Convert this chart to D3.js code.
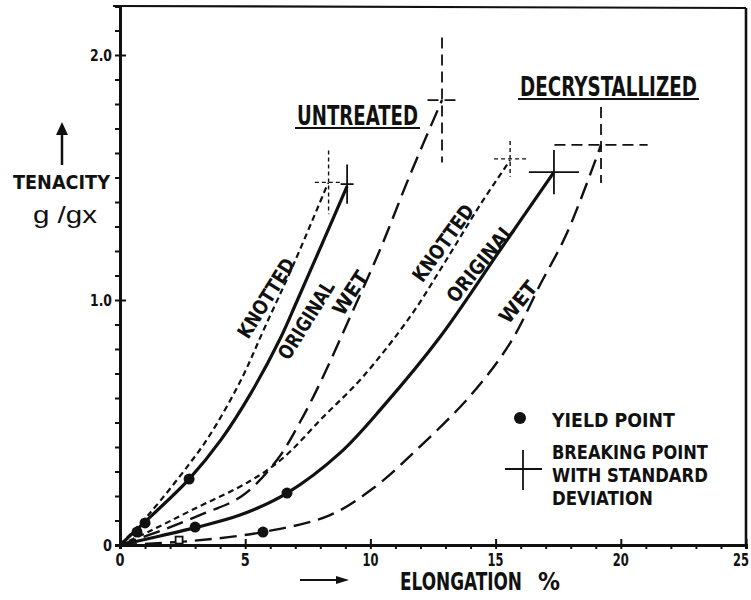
<!DOCTYPE html>
<html><head><meta charset="utf-8">
<script src="https://cdn.jsdelivr.net/npm/d3@7"></script>
<style>
html,body{margin:0;padding:0;background:#fff;}
svg{display:block;}
.lab{font-family:"Liberation Sans Narrow","DejaVu Sans Condensed","Roboto Condensed",sans-serif;font-weight:bold;fill:#111;}
</style></head>
<body>
<svg id="chart" width="751" height="600"></svg>
<script>
// ---------- DATA ----------
const xTicks = [0,5,10,15,20,25];
const yTickLabels = [{v:0,t:"0"},{v:1,t:"1.0"},{v:2,t:"2.0"}];

const untreatedKnotted  = [[0,0],[1.20,0.131],[2.80,0.335],[3.59,0.449],[4.79,0.665],[5.79,0.890],[6.92,1.143],[8.31,1.478]];
const untreatedOriginal = [[0,0],[1.20,0.114],[2.76,0.269],[4.03,0.429],[5.23,0.620],[6.43,0.849],[7.07,0.996],[8.07,1.229],[9.07,1.465]];
const untreatedWet      = [[0,0],[1.60,0.057],[3.19,0.122],[4.87,0.200],[6.27,0.347],[7.19,0.502],[7.99,0.661],[9.19,0.931],[10.38,1.204],[11.58,1.510],[12.86,1.816]];
const decrystKnotted    = [[0,0],[1.20,0.057],[2.80,0.139],[5.19,0.261],[6.51,0.355],[8.11,0.522],[9.66,0.682],[11.58,0.931],[12.98,1.155],[14.38,1.388],[15.58,1.571]];
const decrystOriginal   = [[0,0],[1.60,0.037],[3.08,0.073],[4.79,0.122],[6.67,0.212],[8.79,0.376],[10.52,0.567],[12.78,0.849],[15.18,1.204],[17.33,1.522]];
const decrystWet        = [[0,0],[2.80,0.016],[5.71,0.053],[8.39,0.122],[10.18,0.237],[11.58,0.363],[13.98,0.608],[15.58,0.824],[16.77,1.061],[17.85,1.273],[19.21,1.633]];

// breaking points: [elongation, tenacity, sd elongation, sd tenacity]
const breakUntreatedKnotted  = [8.33,1.48,0.55,0.13];
const breakUntreatedOriginal = [9.07,1.473,0.26,0.08];
const breakUntreatedWet      = [12.86,1.816,0.58,0.255];
const breakDecrystKnotted    = [15.58,1.576,0.64,0.073];
const breakDecrystOriginal   = [17.33,1.522,1.0,0.09];
const breakDecrystWet        = [19.21,1.633,1.86,0.155];

// yield points (filled) and one open marker
const yieldPoints = [[1.0,0.09],[2.76,0.269],[0.68,0.053],[3.0,0.073],[6.67,0.212],[5.71,0.053]];
const openYieldPoints = [[2.36,0.02]];

const groupTitles = ["UNTREATED","DECRYSTALLIZED"];
const curveLabels = ["KNOTTED","ORIGINAL","WET"];
const legendLabels = ["YIELD  POINT","BREAKING  POINT","WITH  STANDARD","DEVIATION"];
const xAxisTitle = ["ELONGATION","%"];
const yAxisTitle = ["TENACITY","g /gx"];

// ---------- DRAW ----------
const svg = d3.select("#chart");
const x = d3.scaleLinear().domain([0,25]).range([120,746]);
const y = d3.scaleLinear().domain([0,2.2]).range([545,6]);
const ink = "#111";

// text fitted to a width by horizontal scaling of real glyphs
function fitText(txt, tx, ty, w, fs, opt){
  opt = opt || {};
  const t = svg.append("text").attr("class", opt.cls===undefined ? "lab" : opt.cls)
    .attr("font-size",fs).attr("text-anchor",opt.anchor||"start").text(txt);
  if(opt.family) t.attr("font-family",opt.family).attr("fill",ink);
  if(opt.dy) t.attr("dy",opt.dy);
  const len = t.node().getComputedTextLength();
  const sx = w/len;
  t.attr("transform",`translate(${tx},${ty}) rotate(${opt.rot||0}) scale(${sx},1)`);
  return t;
}

const styles = {
  knotted:  {w:2.2, dash:"6,4"},
  original: {w:3.2, dash:null},
  wet:      {w:2.4, dash:"17,8"}
};
const crossStyles = {
  knotted:  {w:1.4, dash:"4,3"},
  original: {w:1.8, dash:null},
  wet:      {w:1.8, dash:"11,6"}
};

// frame
svg.append("line").attr("x1",x(0)-7).attr("x2",x(25)).attr("y1",y(2.2)).attr("y2",y(2.2)+2)
  .attr("stroke",ink).attr("stroke-width",2.2);
svg.append("line").attr("x1",x(25)).attr("x2",x(25)).attr("y1",y(2.2)+2).attr("y2",y(0))
  .attr("stroke",ink).attr("stroke-width",2.6);

// axes
const xAxis = d3.axisBottom(x).tickValues(d3.range(0,26,1)).tickSize(4).tickFormat("");
const gx = svg.append("g").attr("transform",`translate(0,${y(0)})`).call(xAxis);
gx.select(".domain").attr("stroke",ink).attr("stroke-width",3);
gx.selectAll(".tick line").attr("stroke",ink).attr("stroke-width",2);
gx.selectAll(".tick").filter(d=>d%5===0).select("line").attr("y1",-6).attr("y2",4);

const yAxis = d3.axisLeft(y).tickValues(d3.range(0,23,1).map(v=>v/10)).tickSize(5).tickFormat("");
const gy = svg.append("g").attr("transform",`translate(${x(0)},0)`).call(yAxis);
gy.select(".domain").attr("stroke",ink).attr("stroke-width",3);
gy.selectAll(".tick line").attr("stroke",ink).attr("stroke-width",2);
gy.selectAll(".tick").filter(d=>Math.abs(d-1)<1e-6||Math.abs(d-2)<1e-6).select("line").attr("x1",6).attr("x2",-5);

// tick labels
xTicks.forEach(v=>{
  const cx = v===25 ? x(v)-5 : x(v);
  fitText(String(v), cx, y(0)+21, v<10?9:16, 17, {anchor:"middle"});
});
yTickLabels.forEach(d=>{
  fitText(d.t, x(0)-8, y(d.v)+6, d.t.length>1?22:9, 16, {anchor:"end"});
});

// axis titles
fitText(yAxisTitle[0], 13, 189, 97, 19);
fitText(yAxisTitle[1], 33, 223, 64, 24, {cls:null, family:"Liberation Sans, Arial, sans-serif"});
svg.append("line").attr("x1",62).attr("x2",62).attr("y1",165).attr("y2",132).attr("stroke",ink).attr("stroke-width",2.5);
svg.append("path").attr("d","M56,135 L62,122 L68,135 Z").attr("fill",ink);

fitText(xAxisTitle[0], 400, 590, 122, 24);
fitText(xAxisTitle[1], 538, 590, 22, 24);
svg.append("line").attr("x1",300).attr("x2",340).attr("y1",580).attr("y2",580).attr("stroke",ink).attr("stroke-width",2);
svg.append("path").attr("d","M336,576 L349,580 L336,584 Z").attr("fill",ink);

// curves
const line = d3.line().x(d=>x(d[0])).y(d=>y(d[1])).curve(d3.curveCatmullRom.alpha(0.5));
const series = [
  {pts:untreatedKnotted, s:"knotted", b:breakUntreatedKnotted},
  {pts:untreatedOriginal, s:"original", b:breakUntreatedOriginal},
  {pts:untreatedWet, s:"wet", b:breakUntreatedWet},
  {pts:decrystKnotted, s:"knotted", b:breakDecrystKnotted},
  {pts:decrystOriginal, s:"original", b:breakDecrystOriginal},
  {pts:decrystWet, s:"wet", b:breakDecrystWet}
];
series.forEach(se=>{
  const st = styles[se.s];
  svg.append("path").attr("d",line(se.pts)).attr("fill","none").attr("stroke",ink)
    .attr("stroke-width",st.w).attr("stroke-dasharray",st.dash).attr("stroke-linecap","butt");
  const cs = crossStyles[se.s];
  const [bx,by,sx,sy] = se.b;
  const g = svg.append("g").attr("stroke",ink).attr("stroke-width",cs.w).attr("stroke-dasharray",cs.dash);
  g.append("line").attr("x1",x(bx-sx)).attr("x2",x(bx+sx)).attr("y1",y(by)).attr("y2",y(by));
  g.append("line").attr("x1",x(bx)).attr("x2",x(bx)).attr("y1",y(by+sy)).attr("y2",y(by-sy));
});

// yield points
svg.selectAll(".yp").data(yieldPoints).enter().append("circle")
  .attr("cx",d=>x(d[0])).attr("cy",d=>y(d[1])).attr("r",5.5).attr("fill",ink);
svg.selectAll(".yo").data(openYieldPoints).enter().append("rect")
  .attr("x",d=>x(d[0])-3.5).attr("y",d=>y(d[1])-3.5).attr("width",7).attr("height",7)
  .attr("fill","#fff").attr("stroke",ink).attr("stroke-width",1.8);

// group titles (underlined)
const titles = [
  {t:groupTitles[0], x0:297, w:121, base:125, ul:128},
  {t:groupTitles[1], x0:520, w:177, base:96, ul:99}
];
titles.forEach(tt=>{
  fitText(tt.t, tt.x0, tt.base, tt.w, 27);
  svg.append("line").attr("x1",tt.x0-2).attr("x2",tt.x0+tt.w+2).attr("y1",tt.ul).attr("y2",tt.ul)
    .attr("stroke",ink).attr("stroke-width",2.2);
});

// rotated curve labels: [label index, elongation, tenacity, angle, length]
const rot = [
  [0,5.83,1.008,-58,90],[1,7.43,0.918,-58,88],[2,9.19,1.029,-57,48],
  [0,12.9,1.233,-54,90],[1,14.38,1.151,-51,94],[2,15.89,0.992,-51,48]
];
rot.forEach(r=>{
  fitText(curveLabels[r[0]], x(r[1]), y(r[2]), r[4], 20, {anchor:"middle", rot:r[3], dy:"0.36em"});
});

// legend
svg.append("circle").attr("cx",520).attr("cy",418).attr("r",6).attr("fill",ink);
svg.append("line").attr("x1",505).attr("x2",542).attr("y1",469).attr("y2",469).attr("stroke",ink).attr("stroke-width",1.8);
svg.append("line").attr("x1",523).attr("x2",523).attr("y1",450).attr("y2",490).attr("stroke",ink).attr("stroke-width",1.8);
const legY = [427,459,482,505];
const legW = [123,156,156,101];
legendLabels.forEach((t,i)=>{
  fitText(t, 552, legY[i], legW[i], 19);
});
</script>
</body></html>
